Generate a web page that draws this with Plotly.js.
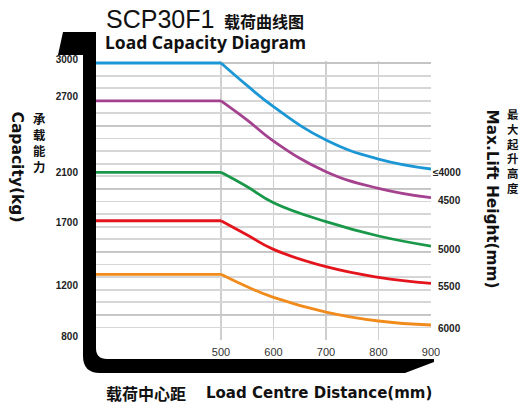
<!DOCTYPE html>
<html>
<head>
<meta charset="utf-8">
<script src="https://cdn.plot.ly/plotly-3.0.1.min.js"></script>
<style>html,body{margin:0;padding:0;background:#fff;}#chart{width:525px;height:406px;}</style>
</head>
<body>
<div id="chart"></div>
<script>
// ---- data ----
const flatDistance = [0, 500];                       // capacity constant up to 500 mm
const curveDistance = [500, 550, 600, 700, 800, 900];  // load centre distance (mm)
const liftHeights = ['≤4000', '4500', '5000', '5500', '6000'];
const cap4000 = [3000, 2820, 2653, 2388, 2237, 2158];
const cap4500 = [2700, 2547, 2380, 2137, 2005, 1930];
const cap5000 = [2132, 2017, 1890, 1740, 1626, 1546];
const cap5500 = [1747, 1634, 1520, 1382, 1298, 1250];
const cap6000 = [1322, 1223, 1139, 1022, 951, 919];
const yTickVals = [800, 1200, 1700, 2100, 2700, 3000];
const xTickVals = [500, 600, 700, 800, 900];
const gridStep = 100;
const majorStep = 500;

const series = [cap4000, cap4500, cap5000, cap5500, cap6000];
const colors = ['#1b97d6', '#a5428f', '#19984a', '#e3141c', '#f18b1c'];

// ---- layout geometry (pixels) ----
const W = 525, H = 406;
const L = 95, R = 431, T = 61, B = 340;
const PW = R - L, PH = B - T;
const px = x => (x - L) / PW;
const py = y => (B - y) / PH;

const CJK = 'Noto Sans CJK SC';
const SANS = 'Liberation Sans';
const DJ = 'DejaVu Sans';

const xMin = 260, xMax = 900;
const yMin = 800, yMax = 3000, yTop = 3016;
const gridVals = [];
for (let v = yMin; v <= yMax; v += gridStep) gridVals.push(v);
const gridText = gridVals.map(v => yTickVals.includes(v) ? String(v) : '');

const traces = [];
// slightly darker grid line every 500 kg (under the curves)
gridVals.filter(v => v % majorStep === 0).forEach(v => {
  traces.push({x: [xMin, xMax], y: [v, v], mode: 'lines', type: 'scatter',
    line: {color: '#c4c4c4', width: 1.8}, hoverinfo: 'skip'});
});
series.forEach((vals, i) => {
  traces.push({
    x: flatDistance, y: [vals[0], vals[0]], mode: 'lines', type: 'scatter',
    line: {color: colors[i], width: 2.8}, hoverinfo: 'skip'
  });
  traces.push({
    x: curveDistance, y: vals, mode: 'lines', type: 'scatter',
    line: {color: colors[i], width: 2.8, shape: 'spline', smoothing: 1.3}, hoverinfo: 'skip'
  });
});

function ann(text, x, y, o) {
  return Object.assign({text: text, xref: 'paper', yref: 'paper', x: px(x), y: py(y),
    showarrow: false, xanchor: 'center', yanchor: 'middle', borderpad: 0}, o || {});
}

const annotations = [];
annotations.push(ann('SCP30F1', 105, 18.5, {xanchor: 'left', font: {family: SANS, size: 25, color: '#111'}}));
annotations.push(ann('载荷曲线图', 223, 21, {xanchor: 'left', font: {family: CJK, size: 16, color: '#111', weight: 'bold'}}));
annotations.push(ann('Load Capacity Diagram', 104, 41.5, {xanchor: 'left', font: {family: 'Noto Sans', size: 17.5, color: '#111', weight: 'bold'}}));
annotations.push(ann('载荷中心距', 105, 392.5, {xanchor: 'left', font: {family: CJK, size: 16, color: '#111', weight: 'bold'}}));
annotations.push(ann('Load Centre Distance(mm)', 205, 392.5, {xanchor: 'left', font: {family: DJ, size: 15, color: '#111', weight: 'bold'}}));
annotations.push(ann('Capacity(kg)', 16.5, 167, {textangle: 90, font: {family: DJ, size: 15.5, color: '#111', weight: 'bold'}}));
annotations.push(ann('Max.Lift Height(mm)', 491.5, 199, {textangle: 90, font: {family: DJ, size: 15.3, color: '#111', weight: 'bold'}}));
annotations.push(ann(Array.from('承载能力').join('<br>'), 39, 143, {font: {family: CJK, size: 12.4, color: '#111', weight: 'bold'}}));
annotations.push(ann(Array.from('最大起升高度').join('<br>'), 513, 151, {font: {family: CJK, size: 11.4, color: '#111', weight: 'bold'}}));
series.forEach((vals, i) => {
  annotations.push({text: liftHeights[i], xref: 'paper', yref: 'y', x: 1, y: vals[vals.length - 1],
    xanchor: 'right', yanchor: 'middle', xshift: 32, yshift: -3, showarrow: false,
    font: {family: SANS, size: 10, color: '#222', weight: 'bold'}});
});

// bracket (mast + fork) drawn in pixel space, converted to paper units
const pts = (s) => s.replace(/(-?[\d.]+),(-?[\d.]+)/g, (m, a, b) => px(+a).toFixed(5) + ',' + py(+b).toFixed(5));
const bracketPath = pts('M 63,32 L 96,32 L 96,348 Q 96,359 107,359 L 434,359 L 434,362 L 405,373 L 100,373 Q 83,373 83,356 L 83,55 L 58,55 Z');

const shapes = [{type: 'path', xref: 'paper', yref: 'paper', path: bracketPath,
  fillcolor: '#000', line: {width: 0}, layer: 'above'}];

const layout = {
  width: W, height: H, autosize: false,
  margin: {l: L, r: W - R, t: T, b: H - B, pad: 0},
  paper_bgcolor: '#fff', plot_bgcolor: '#fff',
  showlegend: false,
  xaxis: {
    range: [xMin, xMax], tickmode: 'array', tickvals: xTickVals,
    showgrid: true, gridcolor: '#cfcfcf', gridwidth: 1.4, zeroline: false, showline: false,
    ticks: 'outside', ticklen: 2, tickcolor: 'rgba(0,0,0,0)',
    tickfont: {family: SANS, size: 11, color: '#333'}
  },
  yaxis: {
    range: [yMin, yTop], tickmode: 'array', tickvals: gridVals, ticktext: gridText,
    showgrid: true, gridcolor: '#d6d6d6', gridwidth: 1.8, zeroline: false, showline: false,
    ticks: 'outside', ticklen: 14, tickcolor: 'rgba(0,0,0,0)', ticklabelshift: -4,
    tickfont: {family: SANS, size: 10, color: '#222', weight: 'bold'}
  },
  annotations: annotations,
  shapes: shapes
};

Plotly.newPlot('chart', traces, layout, {displayModeBar: false, staticPlot: true});
</script>
</body>
</html>
